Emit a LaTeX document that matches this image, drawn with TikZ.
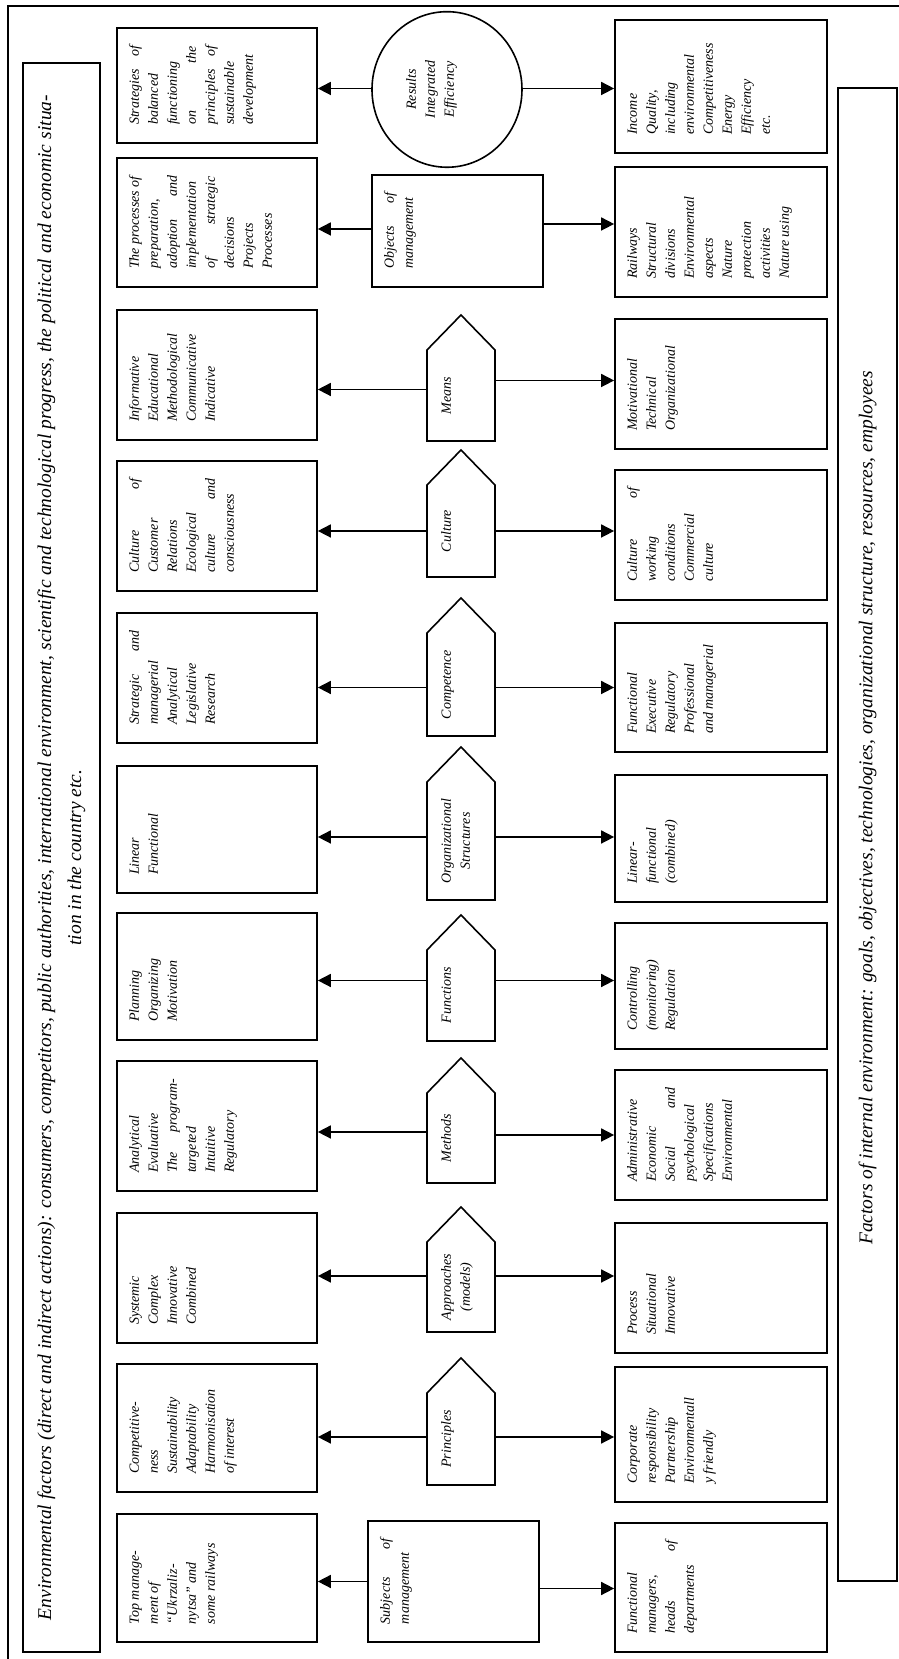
\documentclass[tikz,border=0pt]{standalone}
\usepackage{fontspec}
\setmainfont{Liberation Serif}
\usetikzlibrary{arrows.meta,calc,shapes.geometric}
\newcommand\boxfont{\fontsize{14}{19}\selectfont\itshape\hyphenpenalty=10000\exhyphenpenalty=10000\relax}
\newcommand\stripfont{\fontsize{19.5}{30}\selectfont\itshape}
\newcommand\txtset{\parindent=0pt\parskip=0pt\baselineskip=19pt\lineskiplimit=0pt\lineskip=1pt\relax}
\newcommand\bx[6]{\pgfmathsetmacro\bxw{#3-#2-36}\pgfmathsetmacro\bxd{#5-#4-22}%
\node[boxst, text height=22pt, text depth=\bxd pt] (#1) at ({(#2+#3)/2},{(#4+#5)/2}) {\vtop{\hsize=\bxw pt\relax\txtset\leftskip=0pt\rightskip=0pt\parfillskip=0pt plus 1fil\relax #6\par}};}
\newcommand\pent[4]{\pgfmathsetmacro\bxw{#3-#2-10}%
\node[pentst, text height=24pt, text depth=44pt] (#1) at ({(#2+#3)/2},438) {\vtop{\hsize=\bxw pt\relax\txtset\leftskip=0pt plus 1fil\rightskip=0pt plus 1fil\parfillskip=0pt\relax #4\par}};
\draw[pentline] (#1.north west) -- (#1.north east) -- ($(#1.east)+(35,0)$) -- (#1.south east) -- (#1.south west) -- cycle;}
\newcommand\colarr[5]{\coordinate (#1u) at ($(#1.north)+(#4,0)$);
\coordinate (#1d) at ($(#1.south)+(#5,0)$);
\draw[arr] (#1u) -- (#1u |- #2.south);
\draw[arr] (#1d) -- (#1d |- #3.north);}
\begin{document}
\begin{tikzpicture}[x=1pt,y=1pt,rotate=90,transform shape,
  boxst/.style={draw, line width=1.7pt, inner xsep=18pt, inner ysep=0pt, font=\boxfont},
  pentst/.style={inner xsep=5pt, inner ysep=0pt, outer sep=0pt, font=\boxfont},
  pentline/.style={line width=1.6pt, line join=miter},
  arr/.style={line width=1.6pt, -{Triangle[length=13pt,width=13pt]}},
  strip/.style={draw, line width=1.4pt, font=\stripfont, inner sep=0pt}]
\useasboundingbox (0,0) rectangle (1659,899);
\draw[line width=1.5pt] (-10,891) -- (1653,891) -- (1653,-10);
% strips
\node[strip, minimum width=1589pt, minimum height=77pt] (env) at (801.5,837.5) {\vtop{\hsize=1525pt\relax\parindent=0pt\parskip=0pt\baselineskip=30pt\relax
\makebox[1525pt][s]{Environmental factors (direct and indirect actions): consumers, competitors, public authorities, international environment, scientific and technological progress, the political and economic situa-}\par
\makebox[1525pt][c]{tion in the country etc.}\par}};
\node[strip, minimum width=1493pt, minimum height=59pt] (intl) at (824.5,31.5) {\hspace*{53pt}Factors of internal environment: goals, objectives, technologies, organizational structure, resources, employees};
% column 0
\bx{t0}{17}{145}{582}{782}{Top manage-\par ment of\par “Ukrzaliz-\par nytsa” and\par some railways}
\bx{m0}{17}{138}{360}{531}{Subjects\hfill of\par management}
\bx{b0}{7}{136}{72}{284}{Functional\par managers,\par heads\hfill of\par departments}
% column 1
\bx{t1}{167}{295}{582}{782}{Competitive-\par ness\par Sustainability\par Adaptability\par Harmonisation\par of interest}
\pent{p1}{174}{266}{Principles}
\bx{b1}{157}{292}{72}{284}{Corporate\par responsibility\par Partnership\par Environmentall\par y friendly}
% column 2
\bx{t2}{316}{446}{582}{782}{Systemic\par Complex\par Innovative\par Combined}
\pent{p2}{327}{417}{Approaches\par (models)}
\bx{b2}{306}{436}{72}{284}{Process\par Situational\par Innovative}
% column 3
\bx{t3}{468}{598}{582}{782}{Analytical\par Evaluative\par The\hfill program-\par targeted\par Intuitive\par Regulatory}
\pent{p3}{476}{566}{Methods}
\bx{b3}{459}{589}{72}{284}{Administrative\par Economic\par Social\hfill and\par psychological\par Specifications\par Environmental}
% column 4
\bx{t4}{619}{746}{582}{782}{Planning\par Organizing\par Motivation}
\pent{p4}{618}{709}{Functions}
\bx{b4}{610}{736}{72}{284}{Controlling\par (monitoring)\par Regulation}
% column 5
\bx{t5}{766}{893}{582}{782}{Linear\par Functional}
\pent{p5}{759}{877}{Organizational\par Structures}
\bx{b5}{757}{884}{72}{284}{Linear-\par functional\par (combined)}
% column 6
\bx{t6}{916}{1046}{582}{782}{Strategic\hfill and\par managerial\par Analytical\par Legislative\par Research}
\pent{p6}{923}{1026}{Competence}
\bx{b6}{907}{1036}{72}{284}{Functional\par Executive\par Regulatory\par Professional\par and managerial}
% column 7
\bx{t7}{1068}{1198}{582}{782}{Culture\hfill of\par Customer\par Relations\par Ecological\par culture\hfill and\par consciousness}
\pent{p7}{1082}{1174}{Culture}
\bx{b7}{1059}{1189}{72}{284}{Culture\hfill of\par working\par conditions\par Commercial\par culture}
% column 8
\bx{t8}{1219}{1349}{582}{782}{Informative\par Educational\par Methodological\par Communicative\par Indicative}
\pent{p8}{1218}{1309}{Means}
\bx{b8}{1210}{1340}{72}{284}{Motivational\par Technical\par Organizational}
% column 9
\bx{t9}{1372}{1501}{582}{782}{The processes of\par preparation,\par adoption\hfill and\par implementation\par of\hfill strategic\par decisions\par Projects\par Processes}
\bx{m9}{1372}{1484}{356}{527}{Objects\hfill of\par management}
\bx{b9}{1362}{1492}{72}{284}{Railways\par Structural\par divisions\par Environmental\par aspects\par Nature\par protection\par activities\par Nature using}
% column 10
\bx{t10}{1516}{1631}{582}{782}{Strategies\hfill of\par balanced\par functioning\par on\hfill the\par principles\hfill of\par sustainable\par development}
\node[draw, ellipse, line width=1.6pt, minimum width=141pt, minimum height=150pt, inner sep=0pt, font=\boxfont] (res) at (1569.5,452) {\raisebox{31pt}[0pt][0pt]{\vtop{\hsize=110pt\relax\txtset\leftskip=0pt plus 1fil\rightskip=0pt plus 1fil\parfillskip=0pt\relax Results\par Integrated\par Efficiency\par}}};
\bx{b10}{1506}{1639}{72}{284}{Income\par Quality,\par including\par environmental\par Competitiveness\par Energy\par Efficiency\par etc.}
% arrows
\colarr{m0}{t0}{b0}{0}{-7}
\colarr{p1}{t1}{b1}{2}{2}
\colarr{p2}{t2}{b2}{11}{11}
\colarr{p3}{t3}{b3}{6}{3}
\colarr{p4}{t4}{b4}{15}{15}
\colarr{p5}{t5}{b5}{4}{4}
\colarr{p6}{t6}{b6}{-3}{-3}
\colarr{p7}{t7}{b7}{0}{0}
\colarr{p8}{t8}{b8}{6}{15}
\colarr{m9}{t9}{b9}{2}{7}
\colarr{res}{t10}{b10}{1}{1}
\end{tikzpicture}
\end{document}
